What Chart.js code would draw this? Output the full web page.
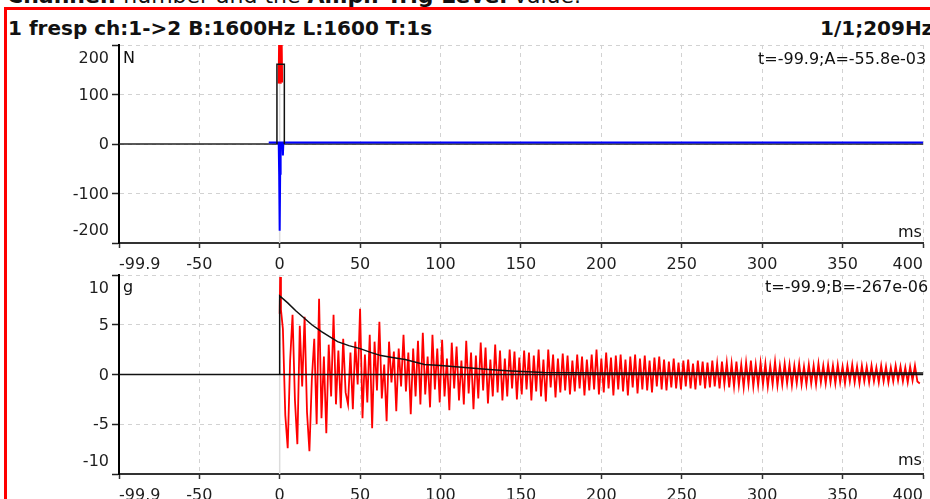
<!DOCTYPE html>
<html><head><meta charset="utf-8">
<script src="https://cdn.jsdelivr.net/npm/chart.js@4.4.1/dist/chart.umd.min.js"></script>
<style>
html,body{margin:0;padding:0;background:#fff;width:930px;height:499px;overflow:hidden;}
#wrap{position:relative;width:930px;height:499px;overflow:hidden;font-family:"DejaVu Sans",sans-serif;color:#111;background:#fff;}
.t{position:absolute;white-space:nowrap;font-size:16px;line-height:16px;}
.big{position:absolute;white-space:nowrap;font-size:20px;line-height:20px;font-weight:bold;}
.hdr{position:absolute;white-space:nowrap;font-size:22px;line-height:22px;font-weight:normal;}
#frame{position:absolute;left:4px;top:7px;width:960px;height:600px;border:3px solid #ff0000;box-sizing:border-box;}
canvas{position:absolute;left:0;}
</style>
</head><body>
<div id="wrap">
  <div class="hdr" style="left:7px;top:-15px;"><b>Channel:</b> number and the <b>Ampl. Trig Level</b> value.</div>
  <div id="frame"></div>
  <div class="big" style="left:8px;top:18px;">1 fresp ch:1-&gt;2 B:1600Hz L:1600 T:1s</div>
  <div class="big" style="left:820px;top:18px;">1/1;209Hz</div>
  <canvas id="c1" width="930" height="242" style="top:30px;"></canvas>
  <canvas id="c2" width="930" height="250" style="top:265px;"></canvas>
  <div class="t" style="left:123px;top:50px;">N</div>
  <div class="t" style="left:758px;top:50.5px;">t=-99.9;A=-55.8e-03</div>
  <div class="t" style="left:898px;top:223.5px;">ms</div>
  <div class="t" style="left:123px;top:278.5px;">g</div>
  <div class="t" style="left:765px;top:279px;">t=-99.9;B=-267e-06</div>
  <div class="t" style="left:898px;top:451.5px;">ms</div>
</div>
<script>
// ---- axis data ----
const X_MIN = -99.9, X_MAX = 400;
const xTicks = [-99.9, -50, 0, 50, 100, 150, 200, 250, 300, 350, 400];
const xTickLabels = ['-99.9', '-50', '0', '50', '100', '150', '200', '250', '300', '350', '400'];
const forceYTicks = [-200, -100, 0, 100, 200];
const forceYLabels = ['-200', '-100', '0', '100', '200'];
const accYTicks = [-10, -5, 0, 5, 10];
const accYLabels = ['-10', '-5', '0', '5', '10'];

// ---- top panel (force, N) ----
const zeroT = [-99.9, 400];
const zeroV = [0, 0];
const cursorT = [0, 0];
const cursorForceV = [-200, 200];
const forceWinT = [-1.7, -1.7, 2.9, 2.9];
const forceWinV = [0, 161, 161, 0];
const forceT = [0.0, 0.3, 0.6, 0.9];
const forceV = [122, 208, 204, 124];
const blueT = [-6.8, -0.6, -0.3, 0.0, 0.3, 0.6, 1.7, 2.0, 2.3, 400];
const blueV = [3, 3, -65, -175, -60, 3, 3, -23, 3, 3];

// ---- bottom panel (acceleration, g) ----
const cursorAccV = [-10, 10];
const accOnsetT = [0, 0.3, 0.8];
const accOnsetV = [6.1, 9.8, 6.5];
const accStartMs = 2.0, accStepMs = 1.5;
const accV = [
  4.6, -4.1, -7.4, 1.4, 6.0, -2.6, -7.0, 4.9,
  -1.2, 5.8, -3.8, -7.7, -0.5, 3.6, -5.0, 7.6, -4.4, 1.8,
  -5.9, 3.0, -2.2, 6.0, -3.0, 2.4, -3.4, 3.6, -1.8, -3.0,
  2.2, -3.5, 3.3, -1.0, 6.6, -4.4, 2.0, -2.8, 4.0, -5.4,
  3.3, -1.6, 5.3, -2.4, 1.0, -4.7, 3.3, -0.8, 2.3, -3.7,
  2.6, -1.2, 4.0, -1.7, 2.2, -4.0, 2.6, -2.2, 3.4, -3.0,
  4.2, -2.0, 1.8, -3.3, 4.0, -1.5, 2.6, -2.8, 3.5, -2.2,
  1.6, -3.6, 3.2, -1.4, 2.8, -2.6, 1.4, -3.0, 3.4, -1.9,
  2.2, -3.5, 1.9, -2.4, 3.2, -1.6, 2.7, -2.9, 1.5, -2.2,
  3.0, -1.8, 2.4, -2.6, 1.6, -2.2, 2.5, -1.4, 2.3, -2.5,
  1.7, -2.0, 2.4, -1.5, 2.2, -2.6, 1.9, -1.7, 2.5, -2.2,
  1.5, -2.7, 2.5, -1.3, 2.0, -2.3, 1.6, -1.8, 2.1, -1.6,
  1.9, -2.0, 1.4, -1.7, 2.0, -1.4, 1.8, -2.1, 1.5, -1.6,
  2.0, -1.5, 2.5, -2.0, 1.6, -1.8, 2.2, -1.4, 1.7, -2.1,
  1.9, -1.5, 2.0, -1.7, 1.5, -2.1, 1.8, -1.3, 2.0, -1.9,
  1.6, -1.5, 1.9, -1.6, 1.4, -1.8, 1.7, -1.2, 1.8, -1.5,
  1.5, -1.6, 1.3, -1.3, 1.6, -1.4, 1.2, -1.5, 1.4, -1.2,
  1.5, -1.4, 1.1, -1.5, 1.4, -1.1, 1.3, -1.4, 1.2, -1.3,
  1.4, -1.2, 1.1, -1.4, 1.3, -1.0, 1.2, -1.3, 1.1, -1.2,
  1.3, -1.1, 1.0, -1.3, 1.2, -1.0, 1.4, -1.2, 1.0, -1.1,
  1.2, -1.0, 1.1, -1.2, 0.9, -1.0, 1.3, -1.1, 0.9, -1.0,
  1.1, -0.9, 1.0, -1.1, 0.9, -0.9, 1.1, -1.0, 0.8, -1.0,
  1.0, -0.9, 0.9, -1.0, 1.1, -0.8, 0.9, -0.9, 1.0, -0.8,
  0.9, -0.9, 1.0, -0.8, 0.8, -0.9, 0.9, -0.7, 1.0, -0.8,
  0.8, -0.9, 0.9, -0.7, 0.8, -0.8, 0.9, -0.7, 0.7, -0.8,
  0.9, -0.7, 0.8, -0.8, 0.7, -0.7, 0.9, -0.6, 0.8, -0.7,
  0.7, -0.8, 0.8, -0.6, 0.9, -0.7, -0.9
];
const accWinT = [0, 0, 5, 10, 15, 20, 26, 30, 36, 43, 50, 57, 63, 70, 78, 90, 100, 115, 130, 144, 164, 200, 300, 400];
const accWinV = [0, 7.9, 7.2, 6.4, 5.7, 5.0, 4.3, 3.9, 3.3, 2.9, 2.6, 2.2, 1.9, 1.7, 1.5, 1.0, 0.9, 0.7, 0.5, 0.35, 0.2, 0.15, 0.15, 0.15];

// ---- helpers ----
const pts = (ts, vs) => ts.map((t, i) => ({x: t, y: vs[i]}));
const accPts = pts(accOnsetT, accOnsetV).concat(accV.map((v, i) => ({x: accStartMs + i * accStepMs, y: v})));

const FONT = {family: 'DejaVu Sans', size: 16};

const yLabelPlugin = {
  id: 'yLabels',
  afterDraw(chart, args, opts) {
    const s = chart.scales.y, ctx = chart.ctx;
    ctx.save();
    ctx.font = '16px "DejaVu Sans"';
    ctx.fillStyle = '#1e1e1e';
    ctx.textAlign = 'right';
    ctx.textBaseline = 'middle';
    const n = opts.values.length;
    opts.values.forEach((v, i) => {
      let y = s.getPixelForValue(v) + 1;
      if (i === 0) y -= 13; else if (i === n - 1) y += 13;
      ctx.fillText(opts.labels[i], s.right - 10, y);
    });
    ctx.restore();
  }
};

function xScale(axisH) {
  return {
    type: 'linear', min: X_MIN, max: X_MAX,
    afterBuildTicks: s => { s.ticks = xTicks.map(v => ({value: v})); },
    afterFit: s => { s.height = axisH; },
    ticks: {autoSkip: false, maxRotation: 0, minRotation: 0, align: 'inner', padding: 7, color: '#1e1e1e', font: FONT,
      callback: (v, i) => xTickLabels[i]},
    grid: {color: '#d2d2d2', lineWidth: 1, tickLength: 5, tickColor: '#333', tickWidth: 1.5, tickBorderDash: []},
    border: {display: true, color: '#333', width: 2, dash: [4, 4]}
  };
}
function yScale(vals) {
  return {
    type: 'linear', min: vals[0], max: vals[vals.length - 1],
    afterBuildTicks: s => { s.ticks = vals.map(v => ({value: v})); },
    afterFit: s => { s.width = 119; },
    ticks: {display: false},
    grid: {color: '#d2d2d2', lineWidth: 1, tickLength: 7, tickColor: '#222', tickWidth: 1.5, tickBorderDash: []},
    border: {display: true, color: '#000', width: 2, dash: [4, 4]}
  };
}
function line(data, color, width, order) {
  return {data, borderColor: color, borderWidth: width, pointRadius: 0, tension: 0, fill: false, order,
    borderJoinStyle: 'miter'};
}
function baseOptions(axisH, yVals, yLabels, padTop) {
  return {
    responsive: false, animation: false, events: [],
    layout: {padding: {top: padTop, right: 3, left: 0, bottom: 0}},
    plugins: {legend: {display: false}, tooltip: {enabled: false}, yLabels: {values: yVals, labels: yLabels}},
    scales: {x: xScale(axisH), y: yScale(yVals)}
  };
}

new Chart(document.getElementById('c1'), {
  type: 'line',
  data: {datasets: [
    line(pts(cursorT, cursorForceV), '#dcdcdc', 1.5, 10),
    line(pts(zeroT, zeroV), '#222', 1.5, 9),
    line(pts(blueT, blueV), '#0000ff', 2, 8),
    line(pts(forceT, forceV), '#ff0000', 4, 7),
    line(pts(forceWinT, forceWinV), '#111', 1.5, 6)
  ]},
  options: baseOptions(29, forceYTicks, forceYLabels, 15),
  plugins: [yLabelPlugin]
});

new Chart(document.getElementById('c2'), {
  type: 'line',
  data: {datasets: [
    line(pts(cursorT, cursorAccV), '#dcdcdc', 1.5, 10),
    line(accPts, '#ff0000', 1.8, 9),
    line(pts(zeroT, zeroV), '#111', 1.5, 8),
    line(pts(accWinT, accWinV), '#111', 1.5, 7)
  ]},
  options: baseOptions(41, accYTicks, accYLabels, 10),
  plugins: [yLabelPlugin]
});
</script>
</body></html>
